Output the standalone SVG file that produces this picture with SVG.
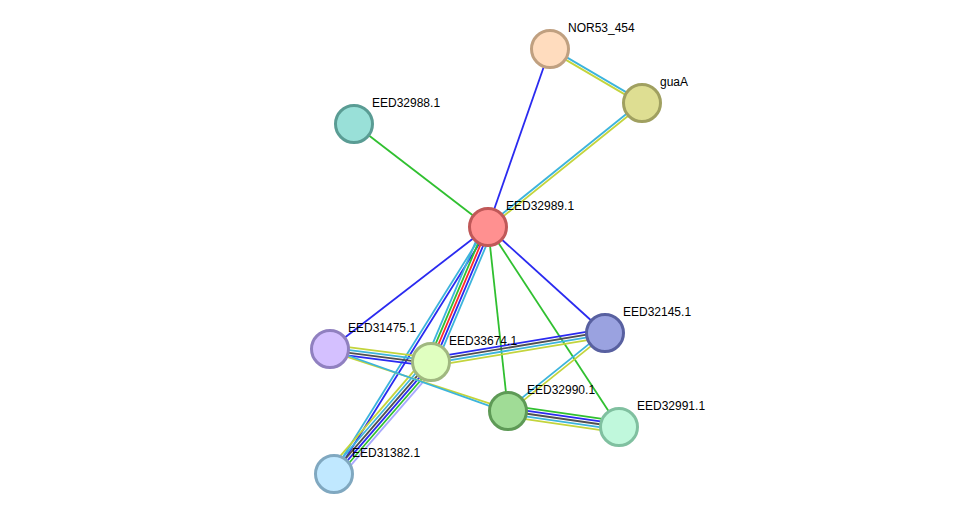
<svg xmlns="http://www.w3.org/2000/svg" width="976" height="520" viewBox="0 0 976 520">
<style>
.e line{stroke-width:1.8;fill:none}
.cy{stroke:#3cb4dc}.yg{stroke:#c3d43c}.bl{stroke:#2a2af0}.gr{stroke:#30c030}.rd{stroke:#ff2a2a}.gy{stroke:#505050}.lv{stroke:#a8a8ff}
.n circle{stroke-width:3}
.n text{font-family:"Liberation Sans",Arial,sans-serif;font-size:12px;fill:#000}
</style>
<rect width="976" height="520" fill="#fff"/>
<g id="connectors" class="e">
<line class="cy" x1="550.66" y1="47.88" x2="642.66" y2="101.88"/>
<line class="yg" x1="549.34" y1="50.12" x2="641.34" y2="104.12"/>
<line class="cy" x1="641.19" y1="101.99" x2="487.19" y2="225.99"/>
<line class="yg" x1="642.82" y1="104.01" x2="488.82" y2="228.01"/>
<line class="bl" x1="550" y1="49" x2="488" y2="227"/>
<line class="gr" x1="354" y1="124" x2="488" y2="227"/>
<line class="bl" x1="488" y1="227" x2="330" y2="349"/>
<line class="bl" x1="488" y1="227" x2="605" y2="333"/>
<line class="gr" x1="488" y1="227" x2="508" y2="411"/>
<line class="gr" x1="488" y1="227" x2="619" y2="427"/>
<line class="cy" x1="486.81" y1="226.26" x2="332.81" y2="473.26"/>
<line class="bl" x1="489.19" y1="227.74" x2="335.19" y2="474.74"/>
<line class="cy" x1="482.84" y1="224.82" x2="425.84" y2="359.82"/>
<line class="gr" x1="485.42" y1="225.91" x2="428.42" y2="360.91"/>
<line class="rd" x1="488" y1="227" x2="431" y2="362"/>
<line class="bl" x1="490.58" y1="228.09" x2="433.58" y2="363.09"/>
<line class="cy" x1="493.16" y1="229.18" x2="436.16" y2="364.18"/>
<line class="yg" x1="330.54" y1="344.83" x2="431.54" y2="357.83"/>
<line class="cy" x1="330.18" y1="347.61" x2="431.18" y2="360.61"/>
<line class="gy" x1="329.82" y1="350.39" x2="430.82" y2="363.39"/>
<line class="bl" x1="329.46" y1="353.17" x2="430.46" y2="366.17"/>
<line class="bl" x1="430.31" y1="357.86" x2="604.31" y2="328.86"/>
<line class="gy" x1="430.77" y1="360.62" x2="604.77" y2="331.62"/>
<line class="cy" x1="431.23" y1="363.38" x2="605.23" y2="334.38"/>
<line class="yg" x1="431.69" y1="366.14" x2="605.69" y2="337.14"/>
<line class="yg" x1="425.71" y1="357.42" x2="328.71" y2="469.42"/>
<line class="cy" x1="427.83" y1="359.25" x2="330.83" y2="471.25"/>
<line class="gy" x1="429.94" y1="361.08" x2="332.94" y2="473.08"/>
<line class="bl" x1="432.06" y1="362.92" x2="335.06" y2="474.92"/>
<line class="gr" x1="434.17" y1="364.75" x2="337.17" y2="476.75"/>
<line class="lv" x1="436.29" y1="366.58" x2="339.29" y2="478.58"/>
<line class="yg" x1="330.46" y1="351.5" x2="508.46" y2="409.68"/>
<line class="cy" x1="329.54" y1="349" x2="507.54" y2="412.32"/>
<line class="cy" x1="604.12" y1="331.91" x2="507.12" y2="409.91"/>
<line class="yg" x1="605.88" y1="334.09" x2="508.88" y2="412.09"/>
<line class="gr" x1="508.8" y1="405.46" x2="619.8" y2="421.46"/>
<line class="bl" x1="508.4" y1="408.23" x2="619.4" y2="424.23"/>
<line class="gy" x1="508" y1="411" x2="619" y2="427"/>
<line class="cy" x1="507.6" y1="413.77" x2="618.6" y2="429.77"/>
<line class="yg" x1="507.2" y1="416.54" x2="618.2" y2="432.54"/>
</g>
<g id="NOR53_454" class="n"><circle cx="550" cy="49" r="18.5" fill="#ffdcbe" stroke="#c0a080"/><text x="568" y="32">NOR53_454</text></g>
<g id="guaA" class="n"><circle cx="642" cy="103" r="18.5" fill="#dede92" stroke="#a0a060"/><text x="660" y="86">guaA</text></g>
<g id="EED32988.1" class="n"><circle cx="354" cy="124" r="18.5" fill="#99e0d8" stroke="#5a9c94"/><text x="372" y="107">EED32988.1</text></g>
<g id="EED32989.1" class="n"><circle cx="488" cy="227" r="18.5" fill="#ff9090" stroke="#c05858"/><text x="506" y="210">EED32989.1</text></g>
<g id="EED32145.1" class="n"><circle cx="605" cy="333" r="18.5" fill="#9aa2e0" stroke="#5860a0"/><text x="623" y="316">EED32145.1</text></g>
<g id="EED31475.1" class="n"><circle cx="330" cy="349" r="18.5" fill="#d4c0ff" stroke="#9080c0"/><text x="348" y="332">EED31475.1</text></g>
<g id="EED33674.1" class="n"><circle cx="431" cy="362" r="18.5" fill="#e0ffc0" stroke="#a0b880"/><text x="449" y="345">EED33674.1</text></g>
<g id="EED32990.1" class="n"><circle cx="508" cy="411" r="18.5" fill="#a0dc96" stroke="#5e9a56"/><text x="527" y="394">EED32990.1</text></g>
<g id="EED32991.1" class="n"><circle cx="619" cy="427" r="18.5" fill="#c0f8dc" stroke="#80c0a0"/><text x="637" y="410">EED32991.1</text></g>
<g id="EED31382.1" class="n"><circle cx="334" cy="474" r="18.5" fill="#c0e8ff" stroke="#80a8c0"/><text x="352" y="457">EED31382.1</text></g>
</svg>
